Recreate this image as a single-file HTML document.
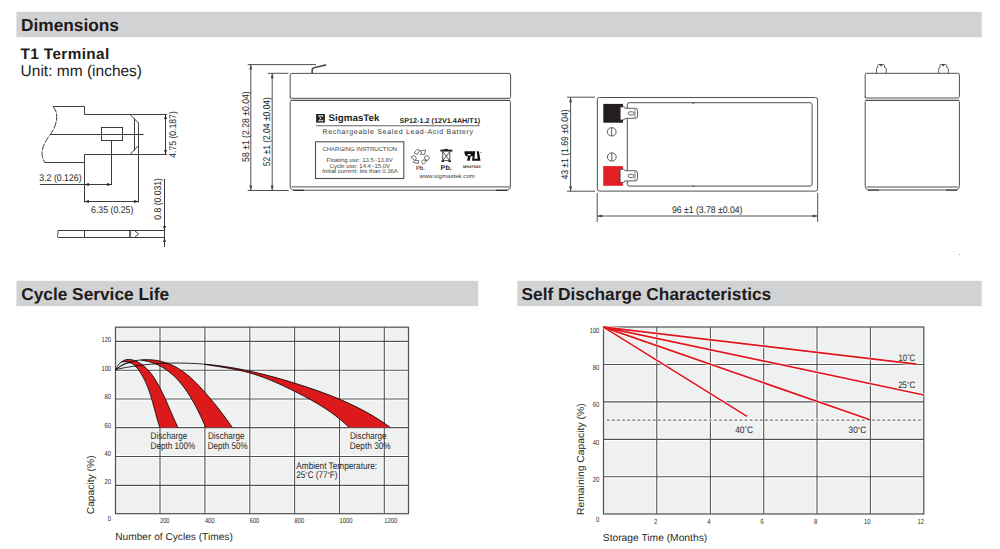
<!DOCTYPE html>
<html><head><meta charset="utf-8">
<style>
html,body{margin:0;padding:0;background:#fff;width:1000px;height:549px;overflow:hidden}
svg{display:block;font-family:"Liberation Sans",sans-serif;text-rendering:geometricPrecision}
</style></head><body>
<svg width="1000" height="549" viewBox="0 0 1000 549">
<!-- headers -->
<rect x="16.4" y="11.8" width="965.4" height="25.4" fill="#d1d2d4"/>
<text x="21" y="30.8" font-size="17.3" font-weight="700" fill="#1e1b1c">Dimensions</text>
<rect x="16.4" y="280.8" width="461.8" height="25.3" fill="#d1d2d4"/>
<text x="21.2" y="299.9" font-size="17.3" font-weight="700" fill="#1e1b1c">Cycle Service Life</text>
<rect x="517.4" y="280.8" width="464.4" height="25.3" fill="#d1d2d4"/>
<text x="521.5" y="299.9" font-size="17.3" font-weight="700" fill="#1e1b1c">Self Discharge Characteristics</text>
<text x="20.6" y="58.5" font-size="15.3" font-weight="700" fill="#1e1b1c" textLength="88.6" lengthAdjust="spacing">T1 Terminal</text>
<text x="20.6" y="75.5" font-size="15.5" fill="#1e1b1c">Unit: mm (inches)</text>

<!-- ===== terminal diagram ===== -->
<g fill="none" stroke="#3c3c3c" stroke-width="1">
  <path d="M53,106.5 L84.5,106.5 L84.5,114.5 L130,114.5 L138.5,123 L138.5,145.5 L130,154.5 L84.5,154.5 L84.5,162.5 L44.7,162.5"/>
  <path d="M53,106.5 C59,113 57.5,124 51,133.5 C44,143 38.5,152 44.7,162.5" stroke-dasharray="7 1.2"/>
  <path d="M134.5,118.5 L134.5,150.5"/>
  <rect x="101.5" y="127.5" width="21" height="13"/>
  <path d="M50,134.5 L143.7,134.5"/>
  <path d="M111.5,140.5 L111.5,185"/>
  <path d="M84.5,162.5 L84.5,202.5"/>
  <path d="M138.5,145.5 L138.5,202.5"/>
  <path d="M39.8,184.5 L111.5,184.5"/>
  <path d="M84.5,201.5 L138.5,201.5"/>
  <path d="M130,114.5 L167,114.5 M130,154.5 L167,154.5"/>
  <path d="M165.5,114.5 L165.5,154.5"/>
  <!-- pin side -->
  <path d="M58,230.5 L165,230.5 M58,237.5 L165,237.5 M58,230.5 C57,232 58.5,233 58,234 C57.5,235 57,236 58,237.5"/>
  <path d="M84.5,230.5 L84.5,237.5"/>
  <path d="M129.5,230.5 L129.5,237.5 M130.6,230.5 L130.6,237.5" stroke-width="0.8"/>
  <path d="M134.5,230.5 L138.7,234 L134.5,237.5"/>
  <path d="M164.5,179 L164.5,247"/>
</g>
<g fill="#222">
  <path d="M165.5,114.5 l-1.4,4.4 l2.8,0z M165.5,154.5 l-1.4,-4.4 l2.8,0z"/>
  <path d="M84.5,184.5 l4.4,-1.4 l0,2.8z M111.5,184.5 l-4.4,-1.4 l0,2.8z"/>
  <path d="M84.5,201.5 l4.4,-1.4 l0,2.8z M138.5,201.5 l-4.4,-1.4 l0,2.8z"/>
  <path d="M164.5,230.5 l-1.4,-4.4 l2.8,0z M164.5,237.5 l-1.4,4.4 l2.8,0z"/>
</g>
<g font-size="9.7" fill="#262626">
  <text x="39.3" y="180.9" textLength="42.3" lengthAdjust="spacingAndGlyphs">3.2 (0.126)</text>
  <text x="91" y="212.9" textLength="42.4" lengthAdjust="spacingAndGlyphs">6.35 (0.25)</text>
  <text transform="translate(176,157.8) rotate(-90)" textLength="46.6" lengthAdjust="spacingAndGlyphs">4.75 (0.187)</text>
  <text transform="translate(161.4,219.7) rotate(-90)" textLength="41.6" lengthAdjust="spacingAndGlyphs">0.8 (0.031)</text>
</g>

<!-- ===== front battery ===== -->
<g fill="none" stroke="#505050" stroke-width="1">
  <path d="M247.7,64.6 L316,64.6"/>
  <path d="M267.8,73.3 L288.5,73.3"/>
  <path d="M247.7,190.5 L288.7,190.5"/>
  <path d="M250.8,64.6 L250.8,190.5 M272.2,73.3 L272.2,190.5"/>
  <path d="M312.2,73.4 L312.2,69.8 Q312.2,68.2 314,67.7 L326.2,64.8" stroke-width="1.7"/>
  <path d="M290.2,98.3 L290.2,75 Q290.2,73.4 291.8,73.4 L509,73.4 Q510.6,73.4 510.6,75 L510.6,96.6 Q510.6,98.3 509,98.3 L291.8,98.3 Q290.2,98.3 290.2,96.7"/>
  <path d="M290.4,100.4 L510.4,100.4" stroke-width="1.2"/>
  <path d="M290.2,101.5 L290.2,186 Q290.2,190.2 294.5,190.2 L506.2,190.2 Q510.4,190.2 510.4,186 L510.4,101.5"/>
  <path d="M291.5,186.9 L509.5,186.9"/>
  <path d="M293.4,190.4 L304,190.4 M496,190.4 L507,190.4" stroke-width="1.4" stroke="#333"/>
  <path d="M315.9,125.7 L479.7,125.7" stroke-width="1.1" stroke="#666"/>
  <rect x="315.5" y="141.8" width="88.3" height="36.7" stroke-width="1.1"/>
</g>
<g fill="#4a4a4a">
  <path d="M250.8,64.6 l-1.5,5 l3,0z M250.8,190.5 l-1.5,-5 l3,0z"/>
  <path d="M272.2,73.3 l-1.5,5 l3,0z M272.2,190.5 l-1.5,-5 l3,0z"/>
</g>
<g font-size="9.8" fill="#262626">
  <text transform="translate(249.2,161.9) rotate(-90)" textLength="70.6" lengthAdjust="spacingAndGlyphs">58 ±1 (2.28 ±0.04)</text>
  <text transform="translate(269.6,166.3) rotate(-90)" textLength="69.2" lengthAdjust="spacingAndGlyphs">52 ±1 (2.04 ±0.04)</text>
</g>
<rect x="316.1" y="114" width="8.8" height="8.6" fill="#231f20"/>
<path d="M317.9,115.2 L323.1,115.2 L323.3,117 L322.8,117 Q322.4,116.2 321.4,116.2 L319.6,116.2 L321.6,118.3 L319.4,120.2 L321.8,120.2 Q322.8,120.2 323.2,119.4 L323.6,119.4 L323.2,121.3 L317.8,121.3 L320.4,118.4 Z" fill="#e6e6e6"/>
<text x="328.5" y="120.8" font-size="9.6" font-weight="700" fill="#231f20" textLength="51" lengthAdjust="spacingAndGlyphs">SigmasTek</text>
<text x="399.4" y="123.3" font-size="7" font-weight="700" fill="#231f20" textLength="80.8" lengthAdjust="spacingAndGlyphs">SP12-1.2 (12V1.4AH/T1)</text>
<text x="322.4" y="133.7" font-size="7" fill="#333" textLength="150.6" lengthAdjust="spacing">Rechargeable Sealed Lead-Acid Battery</text>
<g font-size="5.9" fill="#3a3a3a">
  <text x="322.5" y="151.2" textLength="74.6" lengthAdjust="spacingAndGlyphs">CHARGING INSTRUCTION</text>
  <text x="326.5" y="162" textLength="66.3" lengthAdjust="spacingAndGlyphs">Floating use: 13.5~13.8V</text>
  <text x="329.7" y="167.5" textLength="60.4" lengthAdjust="spacingAndGlyphs">Cycle use: 14.4~15.0V</text>
  <text x="322.2" y="172.8" textLength="75.6" lengthAdjust="spacingAndGlyphs">Initial current: les than 0.36A</text>
  <text x="419.5" y="178.2" font-size="5.6" textLength="55.4" lengthAdjust="spacingAndGlyphs">www.sigmastek.com</text>
</g>
<!-- icons -->
<g fill="none" stroke="#333" stroke-width="0.7" stroke-linejoin="round">
  <path d="M414.2,152.9 L417,149.4 L419.8,150.3 L417.2,154.4 Z"/>
  <path d="M420.2,150.9 L425.6,150.1 L424.6,154.4 L420.3,154.3 L421.6,152.2 Z"/>
  <path d="M410.8,157.2 L414.4,155.3 L416.5,158.4 L414.6,160.3 Z"/>
  <path d="M413.2,162.3 L414.9,160.3 L418.7,160.5 L418.4,163.4 Z"/>
  <path d="M424.3,156.9 L427.4,155.3 L429.6,158.1 L427.4,160.7 L425,159.3 Z"/>
  <path d="M421.3,161.9 L423.2,159.8 L426.7,160.8 L423.4,164.3 Z"/>
</g>
<text x="416" y="169.5" font-size="5.9" font-weight="700" fill="#555" textLength="8.9" lengthAdjust="spacingAndGlyphs">Pb.</text>
<g fill="none" stroke="#222" stroke-width="0.8">
  <path d="M440.4,150.6 L452.4,150.6" stroke-width="1.9"/>
  <path d="M443.6,149.4 L448,149.4" stroke-width="1"/>
  <path d="M442.7,151.6 L442.7,160.6 L449.7,160.6 L449.9,151.6"/>
  <path d="M442.8,151.8 L449.7,160.5 M449.8,151.8 L442.8,160.5"/>
  <path d="M441.4,161.2 L444,161.2 M448.4,161.2 L451,161.2" stroke-width="1.4"/>
</g>
<text x="440.6" y="169.5" font-size="6.8" font-weight="700" fill="#222" textLength="11.2" lengthAdjust="spacingAndGlyphs">Pb.</text>
<g fill="#111">
  <path fill-rule="evenodd" d="M464.6,151.2 L473.6,151.2 L473,156.2 L470.6,156.2 L469.7,160.8 L467.2,160.8 L467.9,156.2 L466.2,156.2 Q465,155.8 464.4,153 Z M467.5,154 L470.7,154 L470.5,155.5 L467.7,155.5 Z"/>
  <path d="M473.3,151.2 L475.3,151.2 L474.3,158.8 L477.6,158.8 L476.8,151.2 L478.9,151.2 L480.5,160.8 L472,160.8 Z"/>
  <circle cx="481" cy="152.3" r="0.55"/>
</g>
<text x="463" y="167.6" font-size="3.6" font-weight="700" fill="#333" textLength="17.6" lengthAdjust="spacingAndGlyphs">MH47929</text>

<!-- ===== top view battery ===== -->
<g fill="none" stroke="#505050" stroke-width="1">
  <path d="M567,97.2 L595,97.2 M567,191.2 L595,191.2"/>
  <path d="M570.6,97.2 L570.6,191.2"/>
  <path d="M597.2,193 L597.2,222 M817.7,193 L817.7,222"/>
  <path d="M597.2,216 L817.7,216"/>
  <rect x="597.3" y="97.5" width="220.3" height="93.6" rx="2.2"/>
  <rect x="627.3" y="102.7" width="184.8" height="83.4" rx="2"/>
  <path d="M693.3,102.2 L693.3,103.8 M693.3,185.2 L693.3,186.8" stroke-width="1.6"/>
</g>
<g fill="#4a4a4a">
  <path d="M570.6,97.2 l-1.5,5 l3,0z M570.6,191.2 l-1.5,-5 l3,0z"/>
  <path d="M597.2,216 l5,-1.5 l0,3z M817.7,216 l-5,-1.5 l0,3z"/>
</g>
<g font-size="9.7" fill="#262626">
  <text transform="translate(568.2,179.6) rotate(-90)" textLength="70.2" lengthAdjust="spacingAndGlyphs">43 ±1 (1.69 ±0.04)</text>
  <text x="672" y="213.2" textLength="70.4" lengthAdjust="spacingAndGlyphs">96 ±1 (3.78 ±0.04)</text>
</g>
<rect x="603.3" y="103.9" width="19.7" height="18.8" fill="#231f20"/>
<rect x="603.2" y="166.1" width="19.7" height="19.7" fill="#e41e26"/>
<g fill="#fff" stroke="#3a3a3a" stroke-width="0.8">
  <path d="M620.2,106.9 L624.2,106.9 L625,108.3 L635.4,108.3 Q637.6,108.3 637.6,110.6 L637.6,116 Q637.6,118.3 635.4,118.3 L625,118.3 L624.2,119.9 L620.2,119.9 Z"/>
  <path d="M635,108.6 L635,118" stroke-width="0.6"/>
  <rect x="628.3" y="111.8" width="5.6" height="3.1" rx="1.4"/>
  <path d="M620.1,169.3 L624.1,169.3 L624.9,170.7 L635.3,170.7 Q637.5,170.7 637.5,173 L637.5,178.6 Q637.5,180.9 635.3,180.9 L624.9,180.9 L624.1,182.4 L620.1,182.4 Z"/>
  <path d="M635,171 L635,180.6" stroke-width="0.6"/>
  <rect x="628.2" y="174.4" width="5.6" height="3.1" rx="1.4"/>
</g>
<g fill="none" stroke="#333" stroke-width="0.8">
  <ellipse cx="611.7" cy="131.8" rx="4.4" ry="4.2"/>
  <path d="M611.7,127.8 L611.7,135.8"/>
  <ellipse cx="611.8" cy="157" rx="4.4" ry="4.2"/>
  <path d="M611.8,153 L611.8,161"/>
</g>

<!-- ===== end view battery ===== -->
<g fill="none" stroke="#505050" stroke-width="1">
  <path d="M865.2,98 L865.2,75 Q865.2,73.3 866.8,73.3 L957.8,73.3 Q959.4,73.3 959.4,75 L959.4,96.4 Q959.4,98 957.8,98 L866.8,98 Q865.2,98 865.2,96.4"/>
  <path d="M865.2,100.4 L959.4,100.4" stroke-width="1.2"/>
  <path d="M865.2,101.4 L865.2,185.6 Q865.2,190 869.4,190 L955.2,190 Q959.4,190 959.4,185.6 L959.4,101.4"/>
  <path d="M866.5,187 L958,187"/>
  <path d="M868,190.2 L879,190.2 M946,190.2 L957,190.2" stroke-width="1.3" stroke="#444"/>
  <path d="M876.5,73.3 L876.5,69 Q876.6,67.4 877.8,67.3 L877.8,65.4 Q877.9,64.5 878.8,64.5 L883.4,64.5 Q884.3,64.5 884.5,65.4 L884.5,67.3 Q886.0,67.4 886.2,69 L886.2,73.3" stroke-width="0.9"/>
  <path d="M938.7,73.3 L938.7,69 Q938.8,67.4 940.0,67.3 L940.0,65.4 Q940.1,64.5 941.0,64.5 L945.6,64.5 Q946.5,64.5 946.7,65.4 L946.7,67.3 Q948.2,67.4 948.4,69 L948.4,73.3" stroke-width="0.9"/>
</g>
<g fill="#333"><path d="M879.2,64.5 L882.8,64.5 L881,66.4z M941.4,64.5 L945,64.5 L943.2,66.4z"/></g>
<circle cx="959.4" cy="254.4" r="0.5" fill="#888"/>

<!-- CHARTS -->
<!-- ===== cycle life chart ===== -->
<rect x="115.4" y="326.8" width="293" height="187.1" fill="#eff0f0"/>
<path d="M160.0,326.8 L160.0,513.9 M204.9,326.8 L204.9,513.9 M249.8,326.8 L249.8,513.9 M294.6,326.8 L294.6,513.9 M339.5,326.8 L339.5,513.9 M384.3,326.8 L384.3,513.9 M115.4,341.4 L408.4,341.4 M115.4,370.3 L408.4,370.3 M115.4,399.0 L408.4,399.0 M115.4,427.6 L408.4,427.6 M115.4,456.5 L408.4,456.5 M115.4,485.4 L408.4,485.4" stroke="#fff" stroke-width="3.2" fill="none"/>
<path d="M160.0,326.8 L160.0,513.9 M204.9,326.8 L204.9,513.9 M249.8,326.8 L249.8,513.9 M294.6,326.8 L294.6,513.9 M339.5,326.8 L339.5,513.9 M384.3,326.8 L384.3,513.9 M115.4,341.4 L408.4,341.4 M115.4,370.3 L408.4,370.3 M115.4,399.0 L408.4,399.0 M115.4,427.6 L408.4,427.6 M115.4,456.5 L408.4,456.5 M115.4,485.4 L408.4,485.4" stroke="#505050" stroke-width="1.1" fill="none"/>
<rect x="115.5" y="327.2" width="293" height="186.5" fill="none" stroke="#505050" stroke-width="1.2"/>
<g fill="#dc1a1c" stroke="none">
<path d="M206.04,364.34 L209.66,364.68 L213.28,365.07 L216.90,365.49 L220.51,365.96 L224.12,366.46 L227.71,367.00 L231.31,367.58 L234.89,368.19 L238.47,368.85 L242.04,369.53 L245.60,370.25 L249.15,371.01 L252.70,371.79 L256.25,372.61 L259.78,373.46 L263.31,374.33 L266.84,375.23 L270.36,376.15 L273.87,377.10 L277.38,378.08 L280.89,379.07 L284.38,380.09 L287.88,381.12 L291.37,382.18 L294.85,383.25 L298.33,384.34 L301.81,385.44 L305.28,386.56 L308.74,387.71 L312.20,388.87 L315.64,390.06 L319.08,391.28 L322.51,392.52 L325.92,393.79 L329.32,395.09 L332.71,396.42 L336.08,397.78 L339.44,399.18 L342.78,400.61 L346.10,402.08 L349.41,403.59 L352.69,405.14 L355.96,406.73 L359.20,408.36 L362.42,410.04 L365.62,411.76 L368.79,413.54 L371.94,415.36 L375.06,417.23 L378.15,419.16 L381.22,421.14 L384.25,423.17 L387.26,425.26 L390.24,427.41 L348.92,427.34 L347.47,425.93 L346.01,424.55 L344.52,423.19 L343.02,421.85 L341.49,420.54 L339.95,419.25 L338.39,417.99 L336.81,416.74 L335.21,415.51 L333.60,414.31 L331.97,413.12 L330.33,411.96 L328.67,410.81 L327.00,409.68 L325.31,408.56 L323.62,407.46 L321.91,406.38 L320.19,405.31 L318.45,404.26 L316.71,403.22 L314.96,402.20 L313.20,401.18 L311.43,400.18 L309.66,399.20 L307.87,398.22 L306.08,397.25 L304.29,396.29 L302.48,395.35 L300.68,394.41 L298.87,393.48 L297.05,392.55 L295.24,391.63 L293.42,390.72 L291.60,389.82 L289.77,388.92 L287.94,388.04 L286.11,387.16 L284.28,386.29 L282.44,385.43 L280.60,384.58 L278.76,383.74 L276.91,382.92 L275.06,382.11 L273.20,381.31 L271.34,380.53 L269.47,379.77 L267.60,379.02 L265.72,378.29 L263.84,377.57 L261.95,376.88 L260.05,376.20 L258.15,375.55 L256.24,374.92 L254.32,374.30 L252.39,373.72 L250.46,373.15 L248.52,372.61 L246.58,372.09 L244.62,371.60 L242.66,371.12 L240.69,370.67 L238.72,370.23 L236.74,369.81 L234.76,369.41 L232.78,369.02 L230.79,368.65 L228.79,368.29 L226.79,367.93 L224.80,367.59 L222.79,367.26 L220.79,366.93 L218.79,366.60 L216.78,366.29 L214.78,365.97 L212.78,365.65 L210.77,365.34 L208.77,365.02 L206.77,364.71 L204.77,364.38 Z"/>
<path d="M141.25,359.92 L143.11,359.78 L144.98,359.69 L146.85,359.66 L148.72,359.69 L150.59,359.78 L152.46,359.93 L154.32,360.13 L156.17,360.39 L158.02,360.71 L159.85,361.08 L161.67,361.51 L163.48,361.99 L165.27,362.52 L167.03,363.11 L168.78,363.75 L170.50,364.44 L172.20,365.18 L173.87,365.97 L175.50,366.82 L177.11,367.71 L178.69,368.65 L180.25,369.63 L181.78,370.65 L183.28,371.72 L184.76,372.82 L186.22,373.95 L187.66,375.12 L189.07,376.31 L190.47,377.54 L191.85,378.79 L193.21,380.06 L194.55,381.36 L195.88,382.68 L197.20,384.01 L198.50,385.36 L199.79,386.72 L201.07,388.09 L202.34,389.47 L203.60,390.86 L204.85,392.25 L206.09,393.65 L207.33,395.06 L208.55,396.48 L209.76,397.90 L210.97,399.33 L212.17,400.77 L213.36,402.21 L214.54,403.66 L215.71,405.11 L216.87,406.57 L218.02,408.03 L219.17,409.50 L220.31,410.97 L221.44,412.45 L222.56,413.93 L223.68,415.42 L224.79,416.91 L225.89,418.41 L226.98,419.90 L228.06,421.40 L229.14,422.91 L230.21,424.41 L231.28,425.92 L232.34,427.44 L205.62,427.34 L205.16,426.27 L204.69,425.19 L204.22,424.11 L203.74,423.02 L203.26,421.93 L202.76,420.83 L202.27,419.73 L201.76,418.62 L201.25,417.52 L200.74,416.40 L200.21,415.29 L199.68,414.17 L199.14,413.05 L198.60,411.93 L198.04,410.82 L197.48,409.70 L196.91,408.58 L196.33,407.46 L195.75,406.34 L195.16,405.23 L194.55,404.12 L193.94,403.01 L193.32,401.90 L192.70,400.80 L192.06,399.70 L191.41,398.61 L190.76,397.52 L190.10,396.44 L189.42,395.36 L188.74,394.29 L188.05,393.23 L187.35,392.18 L186.63,391.13 L185.91,390.10 L185.18,389.07 L184.44,388.05 L183.68,387.04 L182.92,386.04 L182.15,385.06 L181.36,384.08 L180.57,383.12 L179.76,382.17 L178.94,381.23 L178.11,380.31 L177.27,379.40 L176.42,378.50 L175.55,377.62 L174.68,376.76 L173.79,375.91 L172.89,375.07 L171.97,374.26 L171.05,373.46 L170.11,372.68 L169.16,371.91 L168.20,371.17 L167.22,370.44 L166.23,369.74 L165.23,369.05 L164.21,368.39 L163.19,367.75 L162.14,367.12 L161.09,366.53 L160.02,365.95 L158.93,365.39 L157.83,364.86 L156.72,364.36 L155.59,363.88 L154.45,363.42 L153.30,362.99 L152.13,362.58 L150.94,362.20 L149.74,361.85 L148.52,361.53 L147.29,361.23 L146.05,360.96 L144.78,360.72 L143.51,360.51 L142.21,360.33 L140.90,360.18 Z"/>
<path d="M121.20,362.10 L122.31,361.31 L123.47,360.65 L124.67,360.12 L125.90,359.75 L127.15,359.52 L128.41,359.43 L129.69,359.47 L130.97,359.63 L132.25,359.88 L133.51,360.23 L134.77,360.66 L136.00,361.15 L137.20,361.71 L138.37,362.31 L139.52,362.95 L140.63,363.65 L141.72,364.38 L142.78,365.16 L143.81,365.98 L144.81,366.83 L145.79,367.72 L146.74,368.65 L147.67,369.60 L148.58,370.59 L149.46,371.60 L150.32,372.64 L151.16,373.70 L151.98,374.79 L152.78,375.90 L153.56,377.02 L154.32,378.16 L155.06,379.32 L155.78,380.48 L156.49,381.66 L157.18,382.85 L157.86,384.04 L158.52,385.24 L159.17,386.45 L159.80,387.65 L160.42,388.85 L161.04,390.05 L161.63,391.25 L162.22,392.44 L162.80,393.63 L163.37,394.82 L163.94,396.01 L164.49,397.20 L165.04,398.38 L165.58,399.57 L166.11,400.76 L166.65,401.94 L167.17,403.13 L167.70,404.31 L168.22,405.50 L168.74,406.69 L169.25,407.89 L169.77,409.08 L170.29,410.28 L170.80,411.48 L171.32,412.68 L171.84,413.89 L172.37,415.10 L172.90,416.32 L173.43,417.54 L173.96,418.77 L174.51,420.00 L175.06,421.24 L175.61,422.48 L176.17,423.74 L176.75,424.99 L177.33,426.26 L177.92,427.54 L159.75,427.38 L159.44,426.44 L159.13,425.50 L158.83,424.56 L158.54,423.60 L158.24,422.64 L157.96,421.68 L157.67,420.71 L157.39,419.73 L157.11,418.75 L156.83,417.76 L156.56,416.77 L156.29,415.78 L156.01,414.78 L155.74,413.78 L155.47,412.78 L155.20,411.77 L154.93,410.76 L154.66,409.75 L154.39,408.74 L154.12,407.72 L153.84,406.71 L153.56,405.69 L153.28,404.67 L153.00,403.66 L152.72,402.64 L152.43,401.62 L152.14,400.61 L151.84,399.59 L151.54,398.58 L151.23,397.56 L150.92,396.55 L150.61,395.54 L150.29,394.54 L149.96,393.53 L149.63,392.53 L149.28,391.53 L148.94,390.54 L148.58,389.55 L148.22,388.56 L147.84,387.58 L147.46,386.61 L147.07,385.64 L146.67,384.67 L146.26,383.71 L145.85,382.76 L145.42,381.81 L144.98,380.87 L144.53,379.93 L144.06,379.01 L143.59,378.09 L143.10,377.18 L142.60,376.28 L142.09,375.38 L141.57,374.50 L141.03,373.62 L140.48,372.75 L139.91,371.89 L139.33,371.05 L138.73,370.21 L138.12,369.38 L137.49,368.57 L136.84,367.78 L136.18,367.01 L135.49,366.28 L134.77,365.58 L134.04,364.91 L133.27,364.30 L132.48,363.73 L131.65,363.22 L130.79,362.77 L129.90,362.38 L128.98,362.06 L128.01,361.82 L127.01,361.66 L125.97,361.58 L124.88,361.59 L123.75,361.70 L122.57,361.91 L121.35,362.22 Z"/>
</g>
<g fill="none" stroke="#000" stroke-width="0.85" stroke-linejoin="round">
<path d="M115.54,369.53 L119.10,368.78 L122.67,368.08 L126.25,367.43 L129.83,366.82 L133.43,366.26 L137.03,365.74 L140.63,365.27 L144.24,364.85 L147.86,364.47 L151.48,364.14 L155.11,363.85 L158.74,363.61 L162.38,363.41 L166.01,363.25 L169.65,363.14 L173.29,363.07 L176.93,363.04 L180.57,363.06 L184.22,363.12 L187.86,363.22 L191.50,363.36 L195.14,363.54 L198.77,363.77 L202.41,364.03 L206.04,364.34 L209.66,364.68 L213.28,365.07 L216.90,365.49 L220.51,365.96 L224.12,366.46 L227.71,367.00 L231.31,367.58 L234.89,368.19 L238.47,368.85 L242.04,369.53 L245.60,370.25 L249.15,371.01 L252.70,371.79 L256.25,372.61 L259.78,373.46 L263.31,374.33 L266.84,375.23 L270.36,376.15 L273.87,377.10 L277.38,378.08 L280.89,379.07 L284.38,380.09 L287.88,381.12 L291.37,382.18 L294.85,383.25 L298.33,384.34 L301.81,385.44 L305.28,386.56 L308.74,387.71 L312.20,388.87 L315.64,390.06 L319.08,391.28 L322.51,392.52 L325.92,393.79 L329.32,395.09 L332.71,396.42 L336.08,397.78 L339.44,399.18 L342.78,400.61 L346.10,402.08 L349.41,403.59 L352.69,405.14 L355.96,406.73 L359.20,408.36 L362.42,410.04 L365.62,411.76 L368.79,413.54 L371.94,415.36 L375.06,417.23 L378.15,419.16 L381.22,421.14 L384.25,423.17 L387.26,425.26 L390.24,427.41"/>
<path d="M204.77,364.38 L206.77,364.71 L208.77,365.02 L210.77,365.34 L212.78,365.65 L214.78,365.97 L216.78,366.29 L218.79,366.60 L220.79,366.93 L222.79,367.26 L224.80,367.59 L226.79,367.93 L228.79,368.29 L230.79,368.65 L232.78,369.02 L234.76,369.41 L236.74,369.81 L238.72,370.23 L240.69,370.67 L242.66,371.12 L244.62,371.60 L246.58,372.09 L248.52,372.61 L250.46,373.15 L252.39,373.72 L254.32,374.30 L256.24,374.92 L258.15,375.55 L260.05,376.20 L261.95,376.88 L263.84,377.57 L265.72,378.29 L267.60,379.02 L269.47,379.77 L271.34,380.53 L273.20,381.31 L275.06,382.11 L276.91,382.92 L278.76,383.74 L280.60,384.58 L282.44,385.43 L284.28,386.29 L286.11,387.16 L287.94,388.04 L289.77,388.92 L291.60,389.82 L293.42,390.72 L295.24,391.63 L297.05,392.55 L298.87,393.48 L300.68,394.41 L302.48,395.35 L304.29,396.29 L306.08,397.25 L307.87,398.22 L309.66,399.20 L311.43,400.18 L313.20,401.18 L314.96,402.20 L316.71,403.22 L318.45,404.26 L320.19,405.31 L321.91,406.38 L323.62,407.46 L325.31,408.56 L327.00,409.68 L328.67,410.81 L330.33,411.96 L331.97,413.12 L333.60,414.31 L335.21,415.51 L336.81,416.74 L338.39,417.99 L339.95,419.25 L341.49,420.54 L343.02,421.85 L344.52,423.19 L346.01,424.55 L347.47,425.93 L348.92,427.34"/>
<path d="M115.46,369.65 L116.98,368.54 L118.54,367.50 L120.14,366.53 L121.77,365.63 L123.42,364.79 L125.11,364.01 L126.83,363.31 L128.57,362.66 L130.33,362.08 L132.11,361.57 L133.91,361.12 L135.73,360.73 L137.56,360.40 L139.40,360.13 L141.25,359.92 L143.11,359.78 L144.98,359.69 L146.85,359.66 L148.72,359.69 L150.59,359.78 L152.46,359.93 L154.32,360.13 L156.17,360.39 L158.02,360.71 L159.85,361.08 L161.67,361.51 L163.48,361.99 L165.27,362.52 L167.03,363.11 L168.78,363.75 L170.50,364.44 L172.20,365.18 L173.87,365.97 L175.50,366.82 L177.11,367.71 L178.69,368.65 L180.25,369.63 L181.78,370.65 L183.28,371.72 L184.76,372.82 L186.22,373.95 L187.66,375.12 L189.07,376.31 L190.47,377.54 L191.85,378.79 L193.21,380.06 L194.55,381.36 L195.88,382.68 L197.20,384.01 L198.50,385.36 L199.79,386.72 L201.07,388.09 L202.34,389.47 L203.60,390.86 L204.85,392.25 L206.09,393.65 L207.33,395.06 L208.55,396.48 L209.76,397.90 L210.97,399.33 L212.17,400.77 L213.36,402.21 L214.54,403.66 L215.71,405.11 L216.87,406.57 L218.02,408.03 L219.17,409.50 L220.31,410.97 L221.44,412.45 L222.56,413.93 L223.68,415.42 L224.79,416.91 L225.89,418.41 L226.98,419.90 L228.06,421.40 L229.14,422.91 L230.21,424.41 L231.28,425.92 L232.34,427.44"/>
<path d="M140.90,360.18 L142.21,360.33 L143.51,360.51 L144.78,360.72 L146.05,360.96 L147.29,361.23 L148.52,361.53 L149.74,361.85 L150.94,362.20 L152.13,362.58 L153.30,362.99 L154.45,363.42 L155.59,363.88 L156.72,364.36 L157.83,364.86 L158.93,365.39 L160.02,365.95 L161.09,366.53 L162.14,367.12 L163.19,367.75 L164.21,368.39 L165.23,369.05 L166.23,369.74 L167.22,370.44 L168.20,371.17 L169.16,371.91 L170.11,372.68 L171.05,373.46 L171.97,374.26 L172.89,375.07 L173.79,375.91 L174.68,376.76 L175.55,377.62 L176.42,378.50 L177.27,379.40 L178.11,380.31 L178.94,381.23 L179.76,382.17 L180.57,383.12 L181.36,384.08 L182.15,385.06 L182.92,386.04 L183.68,387.04 L184.44,388.05 L185.18,389.07 L185.91,390.10 L186.63,391.13 L187.35,392.18 L188.05,393.23 L188.74,394.29 L189.42,395.36 L190.10,396.44 L190.76,397.52 L191.41,398.61 L192.06,399.70 L192.70,400.80 L193.32,401.90 L193.94,403.01 L194.55,404.12 L195.16,405.23 L195.75,406.34 L196.33,407.46 L196.91,408.58 L197.48,409.70 L198.04,410.82 L198.60,411.93 L199.14,413.05 L199.68,414.17 L200.21,415.29 L200.74,416.40 L201.25,417.52 L201.76,418.62 L202.27,419.73 L202.76,420.83 L203.26,421.93 L203.74,423.02 L204.22,424.11 L204.69,425.19 L205.16,426.27 L205.62,427.34"/>
<path d="M115.61,369.77 L115.77,369.64 L115.94,369.50 L116.12,369.37 L116.29,369.23 L116.46,369.10 L116.64,368.96 L116.82,368.82 L116.99,368.68 L117.17,368.54 L117.35,368.39 L117.54,368.25 L117.72,368.11 L117.90,367.96 L118.09,367.82 L118.28,367.67 L118.47,367.53 L118.65,367.38 L118.85,367.24 L119.04,367.09 L119.23,366.95 L119.42,366.80 L119.62,366.66 L119.81,366.52 L120.01,366.37 L120.21,366.23 L120.41,366.09 L120.61,365.95 L120.81,365.82 L121.01,365.68 L121.21,365.55 L121.42,365.41 L121.62,365.28 L121.83,365.15 L122.03,365.02 L122.24,364.90 L122.45,364.78 L122.66,364.66 L122.87,364.54 L123.08,364.42 L123.29,364.31 L123.50,364.20 L123.72,364.09 L123.93,363.99 L124.14,363.89 L124.36,363.79 L124.58,363.70 L124.79,363.61 L125.01,363.52 L125.23,363.44 L125.45,363.36 L125.67,363.29 L125.89,363.22 L126.11,363.15 L126.33,363.09 L126.55,363.03 L126.77,362.98 L127.00,362.93 L127.22,362.89 L127.44,362.85 L127.67,362.82 L127.89,362.79 L128.12,362.77 L128.34,362.76 L128.57,362.75 L128.80,362.74 L129.02,362.74 L129.25,362.75 L129.48,362.76 L129.71,362.78 L129.94,362.81 L130.17,362.84 L130.40,362.88 L130.62,362.92 L130.85,362.98 L131.08,363.04 L131.32,363.10 L131.55,363.18 L131.78,363.26 L132.01,363.35"/>
<path d="M115.64,369.97 L116.13,368.69 L116.73,367.44 L117.45,366.23 L118.26,365.08 L119.17,364.00 L120.15,363.00 L121.20,362.10 L122.31,361.31 L123.47,360.65 L124.67,360.12 L125.90,359.75 L127.15,359.52 L128.41,359.43 L129.69,359.47 L130.97,359.63 L132.25,359.88 L133.51,360.23 L134.77,360.66 L136.00,361.15 L137.20,361.71 L138.37,362.31 L139.52,362.95 L140.63,363.65 L141.72,364.38 L142.78,365.16 L143.81,365.98 L144.81,366.83 L145.79,367.72 L146.74,368.65 L147.67,369.60 L148.58,370.59 L149.46,371.60 L150.32,372.64 L151.16,373.70 L151.98,374.79 L152.78,375.90 L153.56,377.02 L154.32,378.16 L155.06,379.32 L155.78,380.48 L156.49,381.66 L157.18,382.85 L157.86,384.04 L158.52,385.24 L159.17,386.45 L159.80,387.65 L160.42,388.85 L161.04,390.05 L161.63,391.25 L162.22,392.44 L162.80,393.63 L163.37,394.82 L163.94,396.01 L164.49,397.20 L165.04,398.38 L165.58,399.57 L166.11,400.76 L166.65,401.94 L167.17,403.13 L167.70,404.31 L168.22,405.50 L168.74,406.69 L169.25,407.89 L169.77,409.08 L170.29,410.28 L170.80,411.48 L171.32,412.68 L171.84,413.89 L172.37,415.10 L172.90,416.32 L173.43,417.54 L173.96,418.77 L174.51,420.00 L175.06,421.24 L175.61,422.48 L176.17,423.74 L176.75,424.99 L177.33,426.26 L177.92,427.54"/>
<path d="M121.35,362.22 L122.57,361.91 L123.75,361.70 L124.88,361.59 L125.97,361.58 L127.01,361.66 L128.01,361.82 L128.98,362.06 L129.90,362.38 L130.79,362.77 L131.65,363.22 L132.48,363.73 L133.27,364.30 L134.04,364.91 L134.77,365.58 L135.49,366.28 L136.18,367.01 L136.84,367.78 L137.49,368.57 L138.12,369.38 L138.73,370.21 L139.33,371.05 L139.91,371.89 L140.48,372.75 L141.03,373.62 L141.57,374.50 L142.09,375.38 L142.60,376.28 L143.10,377.18 L143.59,378.09 L144.06,379.01 L144.53,379.93 L144.98,380.87 L145.42,381.81 L145.85,382.76 L146.26,383.71 L146.67,384.67 L147.07,385.64 L147.46,386.61 L147.84,387.58 L148.22,388.56 L148.58,389.55 L148.94,390.54 L149.28,391.53 L149.63,392.53 L149.96,393.53 L150.29,394.54 L150.61,395.54 L150.92,396.55 L151.23,397.56 L151.54,398.58 L151.84,399.59 L152.14,400.61 L152.43,401.62 L152.72,402.64 L153.00,403.66 L153.28,404.67 L153.56,405.69 L153.84,406.71 L154.12,407.72 L154.39,408.74 L154.66,409.75 L154.93,410.76 L155.20,411.77 L155.47,412.78 L155.74,413.78 L156.01,414.78 L156.29,415.78 L156.56,416.77 L156.83,417.76 L157.11,418.75 L157.39,419.73 L157.67,420.71 L157.96,421.68 L158.24,422.64 L158.54,423.60 L158.83,424.56 L159.13,425.50 L159.44,426.44 L159.75,427.38"/>
</g>
<g font-size="7.4" fill="#2a2a2a" text-anchor="end">
<text x="111" y="342.2" textLength="9.5" lengthAdjust="spacingAndGlyphs">120</text>
<text x="111" y="370.8" textLength="9.5" lengthAdjust="spacingAndGlyphs">100</text>
<text x="111" y="399.2" textLength="6.5" lengthAdjust="spacingAndGlyphs">80</text>
<text x="111" y="427.9" textLength="6.5" lengthAdjust="spacingAndGlyphs">60</text>
<text x="111" y="455.9" textLength="6.5" lengthAdjust="spacingAndGlyphs">40</text>
<text x="111" y="484.3" textLength="6.5" lengthAdjust="spacingAndGlyphs">20</text>
<text x="111" y="521.2" textLength="3.3" lengthAdjust="spacingAndGlyphs">0</text>
</g><g font-size="7.4" fill="#2a2a2a">
<text x="160.0" y="523.2" textLength="9.5" lengthAdjust="spacingAndGlyphs">200</text>
<text x="204.9" y="523.2" textLength="9.5" lengthAdjust="spacingAndGlyphs">400</text>
<text x="249.8" y="523.2" textLength="9.5" lengthAdjust="spacingAndGlyphs">600</text>
<text x="294.6" y="523.2" textLength="9.5" lengthAdjust="spacingAndGlyphs">800</text>
<text x="339.5" y="523.2" textLength="12.9" lengthAdjust="spacingAndGlyphs">1000</text>
<text x="384.3" y="523.2" textLength="12.9" lengthAdjust="spacingAndGlyphs">1200</text>
</g>
<g font-size="9.6" fill="#2a2a2a" lengthAdjust="spacingAndGlyphs">
<text x="150.6" y="439.3" textLength="36.6" lengthAdjust="spacingAndGlyphs">Discharge</text><text x="150.5" y="448.9" textLength="44.8" lengthAdjust="spacingAndGlyphs">Depth 100%</text>
<text x="207.9" y="439.3" textLength="36.6" lengthAdjust="spacingAndGlyphs">Discharge</text><text x="207.8" y="448.9" textLength="39.8" lengthAdjust="spacingAndGlyphs">Depth 50%</text>
<text x="349.9" y="439.3" textLength="36.6" lengthAdjust="spacingAndGlyphs">Discharge</text><text x="349.8" y="448.9" textLength="40.9" lengthAdjust="spacingAndGlyphs">Depth 30%</text>
<text x="296.3" y="469.1" textLength="80.8" lengthAdjust="spacingAndGlyphs">Ambient Temperature:</text>
<text x="296.3" y="478.4" textLength="41.2" lengthAdjust="spacingAndGlyphs">25<tspan font-size="7" dy="-1.1">°</tspan><tspan dy="1.1">C (77</tspan><tspan font-size="7" dy="-1.1">°</tspan><tspan dy="1.1">F)</tspan></text>
</g>
<text x="115.2" y="540" font-size="10.1" fill="#2a2a2a" textLength="117.6" lengthAdjust="spacingAndGlyphs">Number of Cycles (Times)</text>
<text transform="translate(94.2,514.3) rotate(-90)" font-size="10.1" fill="#2a2a2a" textLength="58.9" lengthAdjust="spacingAndGlyphs">Capacity (%)</text>
<!-- ===== self discharge chart ===== -->
<rect x="603.5" y="327.1" width="320.3" height="187" fill="#eff0f0"/>
<path d="M656.8,327.1 L656.8,514.1 M710.4,327.1 L710.4,514.1 M763.7,327.1 L763.7,514.1 M817.0,327.1 L817.0,514.1 M870.4,327.1 L870.4,514.1 M603.5,364.5 L923.8,364.5 M603.5,401.9 L923.8,401.9 M603.5,439.4 L923.8,439.4 M603.5,476.8 L923.8,476.8" stroke="#fff" stroke-width="3.2" fill="none"/>
<path d="M656.8,327.1 L656.8,514.1 M710.4,327.1 L710.4,514.1 M763.7,327.1 L763.7,514.1 M817.0,327.1 L817.0,514.1 M870.4,327.1 L870.4,514.1 M603.5,364.5 L923.8,364.5 M603.5,401.9 L923.8,401.9 M603.5,439.4 L923.8,439.4 M603.5,476.8 L923.8,476.8" stroke="#505050" stroke-width="1.1" fill="none"/>
<path d="M607,420.1 L923.8,420.1" stroke="#fff" stroke-width="3.4" fill="none" stroke-dasharray="2.6 2.5"/>
<path d="M607,420.1 L923.8,420.1" stroke="#666" stroke-width="1.4" fill="none" stroke-dasharray="2.6 2.5"/>
<rect x="603.5" y="327" width="320.3" height="187" fill="none" stroke="#505050" stroke-width="1.2"/>
<g stroke="#fff" stroke-width="3.4" fill="none" opacity="0.7">
<path d="M603.5,327.1 L916.5,364.2"/>
<path d="M603.5,327.1 L923.8,395.0"/>
<path d="M603.5,327.1 L870.0,419.8"/>
<path d="M603.5,327.1 L747.0,416.4"/>
</g><g stroke="#e0161e" stroke-width="1.7" fill="none">
<path d="M603.5,327.1 L916.5,364.2"/>
<path d="M603.5,327.1 L923.8,395.0"/>
<path d="M603.5,327.1 L870.0,419.8"/>
<path d="M603.5,327.1 L747.0,416.4"/>
</g>
<g font-size="7.4" fill="#2a2a2a" text-anchor="end">
<text x="599.3" y="332.8" textLength="9.5" lengthAdjust="spacingAndGlyphs">100</text>
<text x="599.3" y="370.0" textLength="6.5" lengthAdjust="spacingAndGlyphs">80</text>
<text x="599.3" y="407.0" textLength="6.5" lengthAdjust="spacingAndGlyphs">60</text>
<text x="599.3" y="445.0" textLength="6.5" lengthAdjust="spacingAndGlyphs">40</text>
<text x="599.3" y="482.4" textLength="6.5" lengthAdjust="spacingAndGlyphs">20</text>
<text x="599.3" y="521.6" textLength="3.3" lengthAdjust="spacingAndGlyphs">0</text>
<text x="657.2" y="524" textLength="3.3" lengthAdjust="spacingAndGlyphs">2</text>
<text x="710.6" y="524" textLength="3.3" lengthAdjust="spacingAndGlyphs">4</text>
<text x="763.9" y="524" textLength="3.3" lengthAdjust="spacingAndGlyphs">6</text>
<text x="817.2" y="524" textLength="3.3" lengthAdjust="spacingAndGlyphs">8</text>
<text x="870.6" y="524" textLength="6.5" lengthAdjust="spacingAndGlyphs">10</text>
<text x="924.0" y="524" textLength="6.5" lengthAdjust="spacingAndGlyphs">12</text>
</g>
<g font-size="9.4" fill="#2a2a2a">
<text x="898.5" y="360.5" textLength="16.6" lengthAdjust="spacingAndGlyphs">10<tspan font-size="7" dy="-1.3">°</tspan><tspan dy="1.3">C</tspan></text>
<text x="898.2" y="387.9" textLength="16.9" lengthAdjust="spacingAndGlyphs">25<tspan font-size="7" dy="-1.3">°</tspan><tspan dy="1.3">C</tspan></text>
<text x="848.6" y="433.1" textLength="17.5" lengthAdjust="spacingAndGlyphs">30<tspan font-size="7" dy="-1.3">°</tspan><tspan dy="1.3">C</tspan></text>
<text x="735.2" y="432.6" textLength="17.8" lengthAdjust="spacingAndGlyphs">40<tspan font-size="7" dy="-1.3">°</tspan><tspan dy="1.3">C</tspan></text>
</g>
<text x="602.8" y="540.6" font-size="10.1" fill="#2a2a2a" textLength="104.4" lengthAdjust="spacingAndGlyphs">Storage Time (Months)</text>
<text transform="translate(583.6,515) rotate(-90)" font-size="10.1" fill="#2a2a2a" textLength="111.6" lengthAdjust="spacingAndGlyphs">Remaining Capacity (%)</text>
<!-- /CHARTS -->
</svg>
</body></html>
